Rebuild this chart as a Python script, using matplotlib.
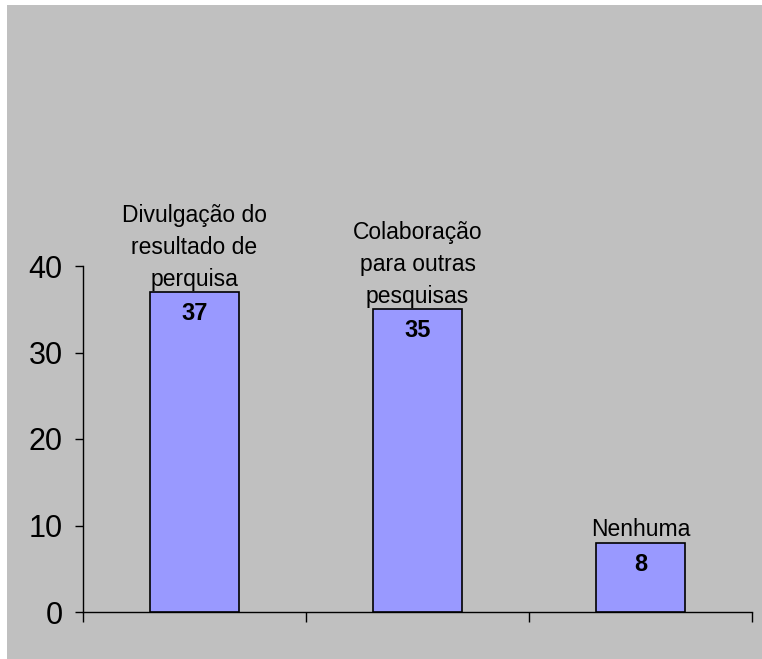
import matplotlib.pyplot as plt
import matplotlib.patches as mpatches
import numpy as np

plt.rcParams['font.family'] = ['Liberation Sans', 'DejaVu Sans']

categorias = ['Divulgação do\nresultado de\nperquisa',
              'Colaboração\npara outras\npesquisas',
              'Nenhuma']
valores = [37, 35, 8]
y_ticks = [0, 10, 20, 30, 40]

cor_fundo = '#C0C0C0'
cor_barra = '#9999FF'

fig = plt.figure(figsize=(7.62, 6.59), dpi=100)
fig.patch.set_facecolor(cor_fundo)
# faixa branca no topo e na esquerda
fig.patches.append(mpatches.Rectangle((0, 1 - 5 / 659), 1, 5 / 659, transform=fig.transFigure,
                                      facecolor='white', edgecolor='none', zorder=0))
fig.patches.append(mpatches.Rectangle((0, 0), 7 / 762, 1, transform=fig.transFigure,
                                      facecolor='white', edgecolor='none', zorder=0))

ax = fig.add_axes([83 / 762, 47 / 659, 669 / 762, 346 / 659])
ax.set_facecolor(cor_fundo)

x = np.arange(len(valores))
barras = ax.bar(x, valores, width=0.4, color=cor_barra, edgecolor='black', linewidth=1.2, zorder=3)

for xi, v, nome in zip(x, valores, categorias):
    ax.annotate(str(v), (xi, v), xytext=(0, -7), textcoords='offset points',
                ha='center', va='top', fontsize=17, fontweight='bold', zorder=4)
    ax.annotate(nome, (xi, v), xytext=(0, 1), textcoords='offset points',
                ha='center', va='bottom', fontsize=16.5, linespacing=1.5, zorder=4)

ax.set_xlim(-0.5, len(valores) - 0.5)
ax.set_ylim(0, 40)
ax.set_yticks(y_ticks)
ax.tick_params(axis='y', direction='out', length=6, width=1, pad=8.5, labelsize=22)

ax.set_xticks([])
ax.set_xticks(np.arange(-0.5, len(valores)), minor=True)
ax.tick_params(axis='x', which='minor', direction='out', length=7.5, width=1, labelbottom=False)

for lado in ['top', 'right']:
    ax.spines[lado].set_visible(False)
for lado in ['left', 'bottom']:
    ax.spines[lado].set_color('black')
    ax.spines[lado].set_linewidth(1)

fig.savefig('out.png', dpi=100, facecolor=fig.get_facecolor())
